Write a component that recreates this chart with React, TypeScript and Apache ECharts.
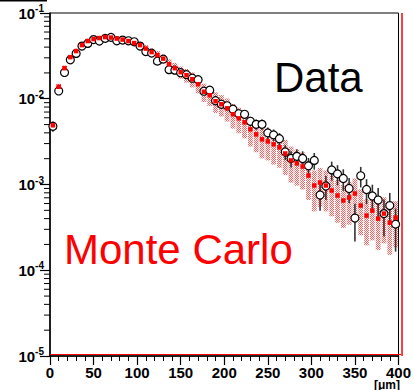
import React, { useEffect, useRef } from "react";
import * as echarts from "echarts";

const FONT = "'Liberation Sans', Arial, Helvetica, sans-serif";

// 60 bins over 0..400 µm
const X_MIN = 0;
const X_MAX = 400;
const BIN_COUNT = 60;

const dataValues = [
  0.00477, 0.01233, 0.02025, 0.02843, 0.03379, 0.04111, 0.0442, 0.04898, 0.04706, 0.05059,
  0.05197, 0.04743, 0.04833, 0.04743, 0.04618, 0.04111, 0.03546, 0.03406, 0.02746, 0.02897,
  0.02184, 0.02154, 0.02013, 0.01909, 0.01737, 0.01668, 0.01224, 0.01258, 0.00948, 0.00863,
  0.00828, 0.00754, 0.00668, 0.00659, 0.00546, 0.00503, 0.00503, 0.004, 0.00379, 0.00342,
  0.0024, 0.00201, 0.00213, 0.00201, 0.00165, 0.00191, 0.000754, 0.00096, 0.00148, 0.00133,
  0.001175, 0.000898, 0.000406, 0.001264, 0.000874, 0.000734, 0.000659, 0.000458, 0.000568, 0.000345,
];

const dataErrors = [
  0.00066, 0.00107, 0.00137, 0.00162, 0.00176, 0.00195, 0.00202, 0.00212, 0.00208, 0.00216,
  0.00219, 0.00209, 0.00211, 0.00209, 0.00206, 0.00195, 0.00181, 0.00177, 0.00159, 0.00163,
  0.00142, 0.00141, 0.00136, 0.00133, 0.00127, 0.00124, 0.00106, 0.00108, 0.00094, 0.00089,
  0.00087, 0.00083, 0.00078, 0.00078, 0.00071, 0.00068, 0.00068, 0.00061, 0.00059, 0.00056,
  0.00047, 0.00043, 0.00044, 0.00043, 0.00039, 0.00042, 0.00026, 0.0003, 0.00037, 0.00035,
  0.00033, 0.00029, 0.00019, 0.00034, 0.00028, 0.00026, 0.00025, 0.00021, 0.00023, 0.00018,
];

const mcValues = [
  0.0049, 0.01381, 0.02273, 0.03057, 0.03594, 0.04222, 0.04706, 0.04966, 0.05101, 0.0524,
  0.0517, 0.05033, 0.04898, 0.04706, 0.04457, 0.04222, 0.03844, 0.03499, 0.03227, 0.02936,
  0.02532, 0.02273, 0.02042, 0.01883, 0.01691, 0.01478, 0.01207, 0.01099, 0.00935, 0.00863,
  0.00774, 0.00659, 0.00591, 0.00531, 0.0044, 0.00384, 0.00336, 0.00318, 0.00294, 0.00271,
  0.0023, 0.00191, 0.00176, 0.00162, 0.00127, 0.000973, 0.001055, 0.000973, 0.000851, 0.000744,
  0.00065, 0.000705, 0.000785, 0.000568, 0.000434, 0.000496, 0.0004, 0.000458, 0.000359, 0.000411,
];

const mcRelErr = [
  0.1, 0.08, 0.07, 0.06, 0.06, 0.06, 0.06, 0.06, 0.06, 0.06,
  0.06, 0.06, 0.06, 0.07, 0.07, 0.08, 0.1, 0.1, 0.12, 0.12,
  0.14, 0.15, 0.16, 0.18, 0.2, 0.22, 0.24, 0.25, 0.27, 0.28,
  0.3, 0.32, 0.33, 0.35, 0.37, 0.38, 0.4, 0.4, 0.42, 0.42,
  0.44, 0.45, 0.45, 0.46, 0.48, 0.5, 0.48, 0.5, 0.5, 0.52,
  0.52, 0.52, 0.5, 0.55, 0.55, 0.55, 0.57, 0.55, 0.58, 0.55,
];

const xTickInterval = 50;
const yMin = 1e-5;
const yMax = 1e-1;
const minorMultipliers = [2, 3, 4, 5, 6, 7, 8, 9];
const minorDecades = [1e-5, 1e-4, 1e-3, 1e-2];

function makeDotPattern(): any {
  try {
    const c = document.createElement("canvas");
    c.width = 2;
    c.height = 2;
    const ctx = c.getContext("2d");
    if (!ctx) return "rgba(255,0,0,0.3)";
    ctx.fillStyle = "rgba(255,40,40,0.75)";
    ctx.fillRect(0, 0, 1, 1);
    ctx.fillRect(1, 1, 1, 1);
    return { image: c.toDataURL(), repeat: "repeat" };
  } catch (e) {
    return "rgba(255,0,0,0.3)";
  }
}

export default function App() {
  const ref = useRef<HTMLDivElement>(null);

  useEffect(() => {
    if (!ref.current) return;
    const chart = echarts.init(ref.current, null, { renderer: "svg", width: 414, height: 390 });

    const binW = (X_MAX - X_MIN) / BIN_COUNT;
    const centers = dataValues.map((_, i) => X_MIN + binW * (i + 0.5));

    const dataPts = dataValues.map((v, i) => [centers[i], v]);
    const dataErrPts = dataValues.map((v, i) => [centers[i], v, dataErrors[i]]);
    const mcPts = mcValues.map((v, i) => [centers[i], v]);
    const mcBand = mcValues.map((v, i) => [centers[i], v, mcRelErr[i]]);
    const minorTicks: number[][] = [];
    minorDecades.forEach((d) => minorMultipliers.forEach((m) => minorTicks.push([X_MIN, m * d])));
    const bandFill = makeDotPattern();

    const option: any = {
      animation: false,
      backgroundColor: "#fff",
      grid: {
        left: 50,
        right: 13,
        top: 13,
        bottom: 34,
        show: true,
        borderColor: "#000",
        borderWidth: 1,
        backgroundColor: "transparent",
      },
      xAxis: {
        type: "value",
        min: X_MIN,
        max: X_MAX,
        interval: xTickInterval,
        axisLine: { onZero: false, lineStyle: { color: "#000", width: 1.5 } },
        axisTick: { show: true, length: 9, inside: false, lineStyle: { color: "#000", width: 1.2 } },
        minorTick: { show: true, splitNumber: 5, length: 5, lineStyle: { color: "#000", width: 1 } },
        splitLine: { show: false },
        axisLabel: {
          margin: 9,
          fontSize: 15,
          fontWeight: "bold",
          fontFamily: FONT,
          color: "#000",
        },
      },
      yAxis: {
        type: "log",
        logBase: 10,
        min: yMin,
        max: yMax,
        splitNumber: 4,
        axisLine: { show: true, lineStyle: { color: "#000", width: 1.5 } },
        axisTick: { show: true, length: 10, inside: false, lineStyle: { color: "#000", width: 1.2 } },
        splitLine: { show: false },
        axisLabel: {
          margin: 6,
          formatter: (v: number) => `{b|10}{s|${Math.round(Math.log10(v))}}`,
          rich: {
            b: { fontSize: 15, fontWeight: "bold", fontFamily: FONT, color: "#000" },
            s: { fontSize: 10, fontWeight: "bold", fontFamily: FONT, color: "#000", padding: [0, 0, 9, 0] },
          },
        },
      },
      graphic: [
        { type: "line", shape: { x1: 0, y1: 0.75, x2: 47, y2: 0.75 }, style: { stroke: "#000", lineWidth: 1.5 } },
        { type: "line", shape: { x1: 50, y1: 354.5, x2: 401, y2: 354.5 }, style: { stroke: "#ff0000", lineWidth: 1.2 }, z: 100 },
        { type: "line", shape: { x1: 402, y1: 13, x2: 402, y2: 356 }, style: { stroke: "#ff0000", lineWidth: 1.5 }, z: 100 },
        {
          type: "text",
          x: 274,
          y: 77,
          style: { text: "Data", fontSize: 42, fontFamily: FONT, fill: "#000", verticalAlign: "middle", align: "left" },
          z: 100,
        },
        {
          type: "text",
          x: 64,
          y: 249,
          style: { text: "Monte Carlo", fontSize: 42, fontFamily: FONT, fill: "#ff0000", verticalAlign: "middle", align: "left" },
          z: 100,
        },
        {
          type: "text",
          x: 387,
          y: 385,
          style: { text: "[μm]", fontSize: 12, fontWeight: "bold", fontFamily: FONT, fill: "#000", verticalAlign: "middle", align: "center" },
          z: 100,
        },
      ],
      series: [
        {
          type: "custom",
          name: "MC band",
          z: 1,
          clip: true,
          encode: { x: 0, y: 1 },
          data: mcBand,
          renderItem: (params: any, api: any) => {
            const x = api.value(0);
            const v = api.value(1);
            const r = api.value(2);
            const hi = v * (1 + r);
            const lo = Math.max(v * (1 - r), yMin);
            const p1 = api.coord([x - binW / 2, hi]);
            const p2 = api.coord([x + binW / 2, lo]);
            return {
              type: "rect",
              shape: { x: p1[0] + 0.5, y: p1[1], width: p2[0] - p1[0] - 1, height: p2[1] - p1[1] },
              style: { fill: bandFill },
            };
          },
        },
        {
          type: "custom",
          name: "Data errors",
          z: 2,
          clip: true,
          encode: { x: 0, y: 1 },
          data: dataErrPts,
          renderItem: (params: any, api: any) => {
            const x = api.value(0);
            const v = api.value(1);
            const e = api.value(2);
            const p1 = api.coord([x, v + e]);
            const p2 = api.coord([x, Math.max(v - e, yMin)]);
            return {
              type: "line",
              shape: { x1: p1[0], y1: p1[1], x2: p2[0], y2: p2[1] },
              style: { stroke: "#333", lineWidth: 1.6 },
            };
          },
        },
        {
          type: "scatter",
          name: "Data",
          z: 3,
          symbol: "circle",
          symbolSize: 8,
          itemStyle: { color: "#fff", borderColor: "#000", borderWidth: 1.2, opacity: 1 },
          data: dataPts,
        },
        {
          type: "scatter",
          name: "Monte Carlo",
          z: 4,
          symbol: "rect",
          symbolSize: 4.5,
          itemStyle: { color: "#ff0000", opacity: 1 },
          data: mcPts,
        },
        {
          type: "custom",
          name: "minor ticks",
          z: 5,
          clip: false,
          encode: { x: 0, y: 1 },
          data: minorTicks,
          silent: true,
          renderItem: (params: any, api: any) => {
            const p = api.coord([api.value(0), api.value(1)]);
            return {
              type: "line",
              shape: { x1: p[0] - 6, y1: p[1], x2: p[0], y2: p[1] },
              style: { stroke: "#000", lineWidth: 1 },
            };
          },
        },
      ],
    };

    chart.setOption(option);
    return () => chart.dispose();
  }, []);

  return (
    <div
      ref={ref}
      style={{ position: "fixed", left: 0, top: 0, width: 414, height: 390, background: "#fff" }}
    />
  );
}
